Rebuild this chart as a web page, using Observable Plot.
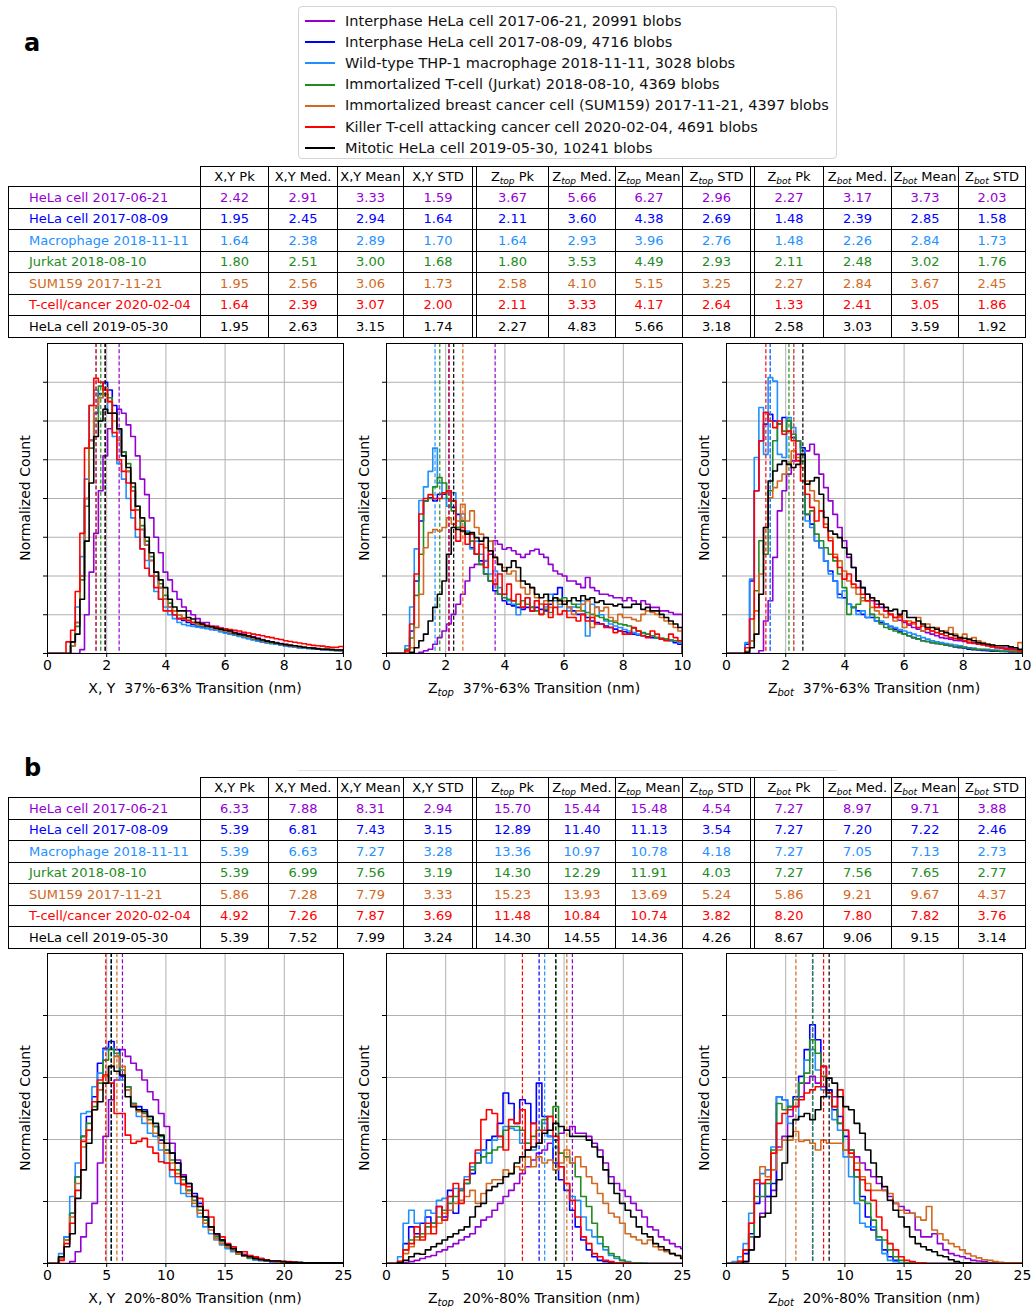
<!DOCTYPE html>
<html>
<head>
<meta charset="utf-8">
<script src="https://cdn.jsdelivr.net/npm/d3@7"></script>
<script src="https://cdn.jsdelivr.net/npm/@observablehq/plot@0.6"></script>
<style>
  body { margin: 0; background: #fff; font-family: "DejaVu Sans", sans-serif; }
  #root { position: relative; width: 1031px; height: 1307px; overflow: hidden; background: #fff; }
  .panelLetter { position: absolute; font-size: 24px; font-weight: bold; line-height: 24px; color: #000; }
  .legendBox { position: absolute; border: 1px solid #d4d4d4; border-radius: 4px; background: #fff; box-sizing: border-box; }
  .legendLine { position: absolute; height: 0; width: 30px; border-top: 2px solid; }
  .legendText { position: absolute; font-size: 14.5px; line-height: 18px; white-space: nowrap; color: #111; }
  table.stats { position: absolute; left: 8px; border-collapse: collapse; table-layout: fixed; font-size: 13px; color: #000; }
  table.stats td { border: 1px solid #000; text-align: center; padding: 0; white-space: nowrap; overflow: hidden; }
  table.stats td.rowlab { text-align: left; padding-left: 20px; }
  table.stats td.blank { border: none; }
  table.stats sub { font-size: 9px; vertical-align: -3px; line-height: 0; font-style: italic; }
  svg.panel { position: absolute; }
</style>
</head>
<body>
<div id="root"></div>
<script>
// ---------------- series / legend ----------------
const seriesColors = ["#9400d3", "#0000ff", "#1e90ff", "#228b22", "#d2691e", "#ff0000", "#000000"];
const legendLabels = [
  "Interphase HeLa cell 2017-06-21, 20991 blobs",
  "Interphase HeLa cell 2017-08-09, 4716 blobs",
  "Wild-type THP-1 macrophage 2018-11-11, 3028 blobs",
  "Immortalized T-cell (Jurkat) 2018-08-10, 4369 blobs",
  "Immortalized breast cancer cell (SUM159) 2017-11-21, 4397 blobs",
  "Killer T-cell attacking cancer cell 2020-02-04, 4691 blobs",
  "Mitotic HeLa cell 2019-05-30, 10241 blobs"
];
const rowLabels = ["HeLa cell 2017-06-21", "HeLa cell 2017-08-09", "Macrophage 2018-11-11", "Jurkat 2018-08-10",
  "SUM159 2017-11-21", "T-cell/cancer 2020-02-04", "HeLa cell 2019-05-30"];
const statNames = ["Pk", "Med.", "Mean", "STD"];

// ---------------- table values (Pk, Med., Mean, STD) ----------------
const tableA_xy  = [[2.42,2.91,3.33,1.59],[1.95,2.45,2.94,1.64],[1.64,2.38,2.89,1.70],[1.80,2.51,3.00,1.68],[1.95,2.56,3.06,1.73],[1.64,2.39,3.07,2.00],[1.95,2.63,3.15,1.74]];
const tableA_top = [[3.67,5.66,6.27,2.96],[2.11,3.60,4.38,2.69],[1.64,2.93,3.96,2.76],[1.80,3.53,4.49,2.93],[2.58,4.10,5.15,3.25],[2.11,3.33,4.17,2.64],[2.27,4.83,5.66,3.18]];
const tableA_bot = [[2.27,3.17,3.73,2.03],[1.48,2.39,2.85,1.58],[1.48,2.26,2.84,1.73],[2.11,2.48,3.02,1.76],[2.27,2.84,3.67,2.45],[1.33,2.41,3.05,1.86],[2.58,3.03,3.59,1.92]];
const tableB_xy  = [[6.33,7.88,8.31,2.94],[5.39,6.81,7.43,3.15],[5.39,6.63,7.27,3.28],[5.39,6.99,7.56,3.19],[5.86,7.28,7.79,3.33],[4.92,7.26,7.87,3.69],[5.39,7.52,7.99,3.24]];
const tableB_top = [[15.70,15.44,15.48,4.54],[12.89,11.40,11.13,3.54],[13.36,10.97,10.78,4.18],[14.30,12.29,11.91,4.03],[15.23,13.93,13.69,5.24],[11.48,10.84,10.74,3.82],[14.30,14.55,14.36,4.26]];
const tableB_bot = [[7.27,8.97,9.71,3.88],[7.27,7.20,7.22,2.46],[7.27,7.05,7.13,2.73],[7.27,7.56,7.65,2.77],[5.86,9.21,9.67,4.37],[8.20,7.80,7.82,3.76],[8.67,9.06,9.15,3.14]];

// ---------------- histograms (normalized counts, legend order) ----------------
// panel a: 64 bins of 10/64 nm starting at 0
const histA_xy = [
  [0,0,0,0,0,0,0,1,10,21,31,42,51,58,62,63,62,59,56,51,45,41,35,30,26,21,19,16,14,12,11,10,9,8,8,7,7,6.5,6,6,5.5,5.2,5,4.6,4.3,4,3.6,3.3,3,2.8,2.6,2.4,2.2,2,1.8,1.6,1.5,1.4,1.3,1.2,1.1,1,0.9,0.8],
  [0,0,0,0,0,2,8,20,40,55,62,67,70,68,64,58,52,47,42,37,32,28,24,20,17,14,12,10,9,8.5,8,7.5,7,6.8,6.5,6.2,6,5.7,5.4,5.1,4.8,4.5,4.2,3.9,3.6,3.3,3,2.8,2.6,2.4,2.2,2,1.8,1.7,1.5,1.4,1.3,1.2,1.1,1,0.9,0.9,0.8,0.8],
  [0,0,0,0,0,3,12,25,45,64,68,66,67,62,56,49,45,40,35,30,27,24,20,16,14,12,10,9,8,7.5,7.2,7,6.8,6.6,6.4,6.2,6,5.6,5.3,5,4.7,4.4,4.1,3.8,3.5,3.2,3,2.8,2.6,2.4,2.2,2,1.8,1.6,1.5,1.4,1.3,1.2,1.1,1,0.9,0.8,0.8,0.7],
  [0,0,0,0,0,2,7,19,38,53,60,69,67,66,62,58,52,49,43,38,33,29,25,21,18,15,13,11,10,9,8.5,8,7.5,7.2,7,6.7,6.4,6.1,5.8,5.4,5.1,4.8,4.5,4.2,3.9,3.6,3.3,3,2.8,2.6,2.4,2.2,2,1.8,1.7,1.5,1.4,1.3,1.2,1.1,1,0.9,0.8,0.8],
  [0,0,0,0,0,2,8,20,40,55,64,66,68.6,65,60,55,51,47,42,37,32,28,24,20,17,14,12,11,10,9.2,8.6,8,7.6,7.3,7,6.7,6.4,6.1,5.8,5.5,5.2,4.9,4.6,4.3,4,3.7,3.4,3.1,2.9,2.7,2.5,2.3,2.1,1.9,1.8,1.6,1.5,1.4,1.3,1.2,1.1,1,1,0.9],
  [0,0,0,0,3,6,16,31,53,64,71,70,68,65,57,50,47,44,37,32,27,22,20,17,14,11,11,10,9,9,8.5,8,8,7.6,7.3,7,6.8,6.6,6.4,6.2,6,5.8,5.5,5.3,5,4.8,4.6,4.3,4.1,3.8,3.6,3.3,3.1,2.9,2.7,2.5,2.3,2.1,2,1.9,1.7,1.6,1.6,1.8],
  [0,0,0,0,0,3,5,14,29,44,56,60,63,62,62,58,51,48,44,38,35,30,26,21,19,17,14,12,11,11,9.3,8.9,8,7.6,7.1,6.9,6.5,6.3,6,5.8,5.3,5,4.8,4.5,4.2,3.8,3.5,3.2,3,2.7,2.5,2.3,2.1,2,1.8,1.6,1.5,1.4,1.2,1.1,1.1,1,0.9,0.9]
];
const histA_top = [
  [0,0,0,0,0,0,0,0.3,0.7,1.1,2.4,4.1,5.8,7.6,10.1,12.7,15.3,18.7,22.2,23,23,23.9,25.6,29.1,28.2,26.9,27.3,26.5,25.6,24.8,25.6,26.5,26.9,25.6,24.8,23,21.3,20.5,20,18.7,18.7,17.9,17,19.6,17,16.2,15.3,15.3,14.9,14.4,14.4,13.6,14.4,13.6,12.7,13.6,12.7,11.9,11.9,11,11,10.6,10.1,10.1],
  [0,0,0,0,1.1,5.8,18.7,34.2,39.4,40.2,39.4,41.1,41.1,42,37.7,35.9,34.2,30.8,27.3,25.6,23.9,20.5,18.7,16.2,15.3,13.6,12.7,12.3,11.9,11.4,11.9,11,11.9,11.4,11,12.7,15.3,17,13.6,11.9,11,10.1,10.1,9.3,8.4,8,7.6,7.1,6.7,6.3,5.8,5.6,5.3,5,4.8,4.6,4.3,4.1,4,3.7,3.5,3.3,2.8,2.4],
  [0,0,0,0,2,12,27,39.5,43,47,53,44,40,38,41.5,32.5,36,31.6,27,29,25.6,24,20.5,21.3,17,15.3,13.6,12.7,10,12,14.4,12,13.6,12.7,12,15.3,13.6,12,13.6,11,12,12.7,13.6,4.5,12.7,12,10,8.4,7.6,7.1,6.7,6.2,5.8,5.4,5,5.2,5,4.6,4.1,3.9,3.7,3.5,3.3,2.8],
  [0,0,0,0,1,4,15,25.6,39.4,40,43,45.4,44,40,36.8,32.5,34.2,31.2,29,25.6,23,20.5,18.7,17.9,15.3,14.4,14,13.6,12.7,13.6,12.7,11.9,11,10.1,11.4,10.6,14.4,14,14.4,13.6,12.7,11.9,11,10.6,10.1,9.7,9.3,8.8,8.4,8,7.6,7.4,7.1,6.5,5.8,5.4,5,4.6,4.1,3.9,3.7,3.5,3.3,3.3],
  [0,0,0,0,0.5,1.5,6.7,15.3,27.3,31.2,32,31.6,32.5,35,33.4,34.2,38.5,34.2,36.8,32.5,30.8,27.3,29,24.8,23,22.2,20.5,21.3,18.7,17,15.3,17,14.4,12.7,13.6,11.9,14.4,12.7,13.6,11.9,10.1,11,12.7,13.6,6.7,11.9,11,11.9,9.3,8.4,10.1,9.3,9.3,8.8,8.4,10.1,11,10.6,10.1,9.3,8.4,7.6,6.7,5.8],
  [0,0,0,0,0.7,7.6,20.5,36,40,41,40,40,41.5,42,39.4,29,32.5,28.2,30.8,25.6,28.2,22.2,26.5,17.9,20.5,15.3,17.9,13.6,15.3,11.9,14.4,11,13.6,10.1,12.7,9.3,11.9,10.1,11,9.3,9.3,8.4,10.1,8.4,9.3,7.6,7.6,6.7,6.7,5.4,5.8,5,5,6.7,5.8,4.6,4.1,5.8,5,3.7,3.3,5,4.1,3.3],
  [0,0,0,0,0,0.3,1.5,3.3,5,8.4,11.9,15.3,18.7,25.6,32.5,32,31.6,30.8,31.2,29.9,29,29.9,26.5,24.8,23,21.3,22.2,23.9,22.2,18.7,17.9,17,15.3,14.4,15.3,13.6,14.4,13.6,12.7,13.6,14.4,13.6,14.9,14,14.4,13.2,13.6,12.7,12.7,12.3,12.7,11.9,11.9,12.7,12.7,11.4,11.9,11,11,10.1,9.3,8.4,7.6,6.7]
];
const histA_bot = [
  [0,0,0,0,0,0,0,0.7,8.4,13.6,24.8,36.8,42,46.3,49.7,51.4,51.4,52.3,54,51.4,46.3,42.8,39.4,35.9,32.5,29.1,24.8,22.2,18.7,17,15.3,13.6,12.7,11.9,11,10.1,9.3,8.6,8,7.3,6.7,6.3,5.8,5.4,5,4.6,4.1,3.9,3.7,3.4,3.3,3.1,2.8,2.8,2.8,2.4,2,1.8,1.5,1.5,1.4,1.2,1.1,0.9],
  [0,0,0,0,2.4,18.7,42,54.9,59.2,61.7,60,59.2,60.9,60,55.7,54.9,53.1,35.9,33.4,29.1,27.3,23.9,21.3,18.7,15.3,14.4,12.7,11.9,11,10.1,9.3,9.3,8.4,8,7.6,6.9,6.3,5.7,5,4.6,4.1,3.7,3.3,3.1,2.8,2.6,2.4,2.2,2,1.7,1.5,1.4,1.1,1,0.9,0.8,0.7,0.6,0.6,0.5,0.5,0.4,0.4,0.3],
  [0,0,0,0,2.8,19.2,50.6,63.5,51.4,71.2,70.3,51.4,50.6,60.9,58.3,54.9,52.3,34.2,32.5,29.1,27.3,23.9,20.5,18.7,14.4,16.2,12.7,11.9,10.1,11,9.3,10.1,8.4,8.4,7.6,7.1,6.7,6.2,5.8,5.4,5,4.6,4.1,3.7,3.3,3,2.8,2.6,2.4,2.2,2,1.7,1.5,1.4,1.1,1.1,1.1,0.9,0.9,0.8,0.7,0.6,0.5,0.5],
  [0,0,0,0,0.5,3.3,16.2,29.1,25.6,42,54.9,59.2,57.4,60,56.6,54.9,49.7,35.9,36.8,30.8,29.1,27.3,25.6,23.9,20.5,17,10.1,11.9,12.7,14.4,13.6,10.1,9.3,7.6,6.7,6.3,5.8,5.4,5,4.6,4.1,3.7,3.3,3.1,2.8,2.6,2.4,2.2,2,1.8,1.7,1.5,1.4,1.2,1.1,1,0.9,0.8,0.7,0.6,0.5,0.5,0.4,0.4],
  [0,0,0,0,0.5,3.3,11,20.5,32.5,40.2,42.8,44.5,46.3,48.8,52.3,50.6,48,44.5,42,39.4,36.8,33.4,29.9,25.6,23.9,21.3,18.7,17,15.3,13.6,13.6,11.9,11,10.1,9.3,10.1,8.4,9.3,6.7,8.4,7.6,9.3,5.8,7.6,5.8,6.7,5,5.8,6.7,5,4.1,5,3.3,4.1,3.3,2.8,2.4,2.2,2,2,2,1.7,1.5,2.8],
  [0,0,0,0,1.5,8.9,42,54.9,62.2,60,58.3,60,56.6,57.4,54.9,49.7,44.5,41.1,37.7,34.2,36.8,32.5,29.1,24.8,22.2,19.2,20.5,17.9,17,15.3,13.6,14.4,11.9,12.7,11,10.1,9.3,9.7,8.4,7.6,8,6.7,7.1,6.3,5.8,5.4,5,4.6,4.1,3.9,3.7,3.3,2.8,2.6,2.4,2.2,2,1.7,1.5,1.4,1.1,1,0.9,0.7],
  [0,0,0,0,0.3,1.5,5,15.3,32.5,44.5,47.1,48.8,49.7,48.8,48,48.8,51.4,43.7,44.5,45.4,41.1,35.1,31.6,30.8,29.9,27.3,25.6,22.2,18.7,17,15.3,14.4,13.6,12.7,11.9,11,11.4,10.1,11,9.3,9.3,8.4,7.6,6.7,6.7,6.3,5.8,5.4,5,4.6,4.1,3.9,3.7,3.3,2.8,2.6,2.4,2.2,2,2,2,1.7,1.5,1.1]
];
// panel b: bins of 30/64 nm starting at 0 (shown up to 25 nm)
const histB_xy = [
  [0,0,0,0,0.3,1.9,4.3,6.5,9.7,16.2,20.5,26.4,29.6,34.5,33.4,32.3,31.2,29.6,27.7,26.4,24.2,22.1,19.4,16.7,14.3,11.8,10.8,9.2,7.5,5.9,4.6,3.8,3,2.4,1.9,1.5,1.2,1,0.8,0.5,0.4,0.3,0.3,0.2,0.2,0.1,0.1,0.1,0.1,0.1,0.1,0.1,0.1,0.1],
  [0,0,0.8,4.3,8.1,14,20.5,23.7,26.9,32.3,34.7,35.8,34.5,30.2,28.5,25.8,25.3,24.8,23.7,22.1,19.9,18.3,17.8,16.2,14,12.9,11.3,9.7,7.5,5.9,4.8,3.8,2.7,2.2,1.6,1.2,1,0.6,0.5,0.4,0.3,0.3,0.2,0.2,0.1,0.1,0.1,0.1,0.1,0,0,0,0,0],
  [0,0,1.6,4.3,10.8,16.2,24.2,24.5,28.5,30.7,34.5,34.7,33.4,29.6,28,25.3,23.7,22.6,21,20.5,18.3,16.2,14,12.9,11.3,10.8,9.2,7.5,5.9,4.8,3.8,3,2.4,1.9,1.5,1.2,0.8,0.6,0.5,0.4,0.3,0.2,0.2,0.2,0.1,0.1,0.1,0.1,0.1,0,0,0,0,0],
  [0,0,1.1,3.8,8.1,14,20.5,22.6,25.3,29.1,32.8,34.5,33.9,31.2,28.5,25.8,24.8,24.2,23.2,22.1,20.5,18.3,16.7,15.1,13.5,11.8,10.2,8.6,7,5.9,4.3,3.5,2.7,2.2,1.5,1.2,0.9,0.7,0.6,0.5,0.4,0.3,0.2,0.2,0.1,0.1,0.1,0.1,0.1,0,0,0,0,0],
  [0,0,0.8,3.8,7.5,12.9,18.8,21.5,24.8,28,30.2,31.8,33.4,31.8,28,25.6,24.5,23.7,22.6,21,19.4,17.8,16.2,14.5,12.9,11.3,9.7,8.1,6.5,5.4,4,3.2,2.7,2.2,1.6,1.2,1,0.8,0.6,0.5,0.4,0.3,0.2,0.2,0.1,0.1,0.1,0.1,0.1,0.1,0,0,0,0],
  [0,0,0.5,3.2,6.5,11.8,19.7,21.5,26.1,29.6,30.4,29.1,24.2,24.2,20.7,19.4,19.7,20.2,18.8,17.8,16.4,16.2,15.1,14,12.7,12.4,10.8,10.5,8.6,7.5,4.8,4.3,3.2,2.7,1.9,1.9,1.3,1.1,0.8,0.6,0.4,0.4,0.3,0.3,0.2,0.1,0.1,0.1,0.1,0.1,0.1,0.1,0.1,0.1],
  [0,0,1.1,2.7,4.8,10.5,15.1,19.4,24.8,26.1,29.1,31.8,31,30.4,26.9,25.3,24.8,24.5,23.7,22.6,20.7,19.4,17.8,16.2,14,12.9,10.8,9.2,7.5,5.9,4.8,3.8,3,2.4,1.9,1.3,1.1,0.8,0.6,0.5,0.4,0.4,0.3,0.2,0.2,0.2,0.1,0.1,0.1,0.1,0.1,0.1,0.1,0.1]
];
const histB_top = [
  [0,0,0,0.1,0.3,0.5,0.8,1.1,1.3,1.9,2.2,2.7,3.2,3.8,4.3,4.8,5.9,7,7.5,8.6,9.7,10.8,11.8,12.9,14.5,15.6,16.7,17.8,18.3,19.4,19.9,21,21.5,22.1,21,21,20.5,19.4,18.3,16.2,14,12.9,11.8,10.8,9.7,8.6,7.5,5.9,5.4,4.3,3.8,3.2,2.7,2.4],
  [0,0,0.3,3.2,5.9,4.8,6.5,7.5,6.5,9.2,7.5,11.8,8.1,11.8,12.9,14.5,16.2,18.3,19.9,20.5,22.6,27.5,25.8,22.6,26.4,25.8,22.6,29.1,23.7,20.5,16.2,13.5,11.8,8.6,5.9,3.8,2.2,1.1,0.5,0.3,0.1,0.1,0.1,0,0,0,0,0,0,0,0,0,0,0],
  [0,0,1.1,6.5,8.6,6.5,4.3,8.6,8.1,10.2,10.5,10.8,12.1,12.1,14,15.6,17.8,18.3,16.2,19.9,20.5,22.1,21.8,21.5,19.4,19.4,18.3,19.4,22.6,20.5,18.8,15.6,12.9,10.8,10.2,7.5,5.4,4.3,3.2,2.2,1.3,0.8,0.5,0.3,0.1,0.1,0.1,0,0,0,0,0,0,0],
  [0,0,0.3,2.2,3.8,4.3,4.8,5.9,6.5,7.5,8.6,9.7,10.8,11.8,12.9,15.1,16.2,17.2,17.8,18.3,18.8,21.5,22.1,22.1,21.5,19.4,20.5,21.5,23.2,23.7,25.3,17.8,17.2,16.2,14,10.8,9.2,6.5,4.3,2.7,1.6,1.1,0.5,0.2,0.1,0.1,0,0,0,0,0,0,0,0],
  [0,0,0.3,1.6,2.7,3.8,4.3,4.8,5.9,6.5,8.1,8.6,9.7,10.2,10.8,11.8,9.7,11.3,12.9,13.5,13.5,15.1,14.5,15.6,15.1,17.2,15.6,17.2,16.2,16.7,15.1,16.2,18.3,16.2,17.2,15.6,14,12.9,11.3,9.7,8.1,7.5,6.5,4.8,4.3,3.8,3.2,3.8,2.7,2.2,1.9,1.6,1.3,1.1],
  [0,0,0.3,2.2,3.2,5.9,3.8,6.5,4.8,9.2,7,10.8,12.9,9.7,13.5,16.2,18.3,23.2,24.8,24.2,20.5,18.3,23.2,22.6,24.8,18.3,22.6,19.4,21.5,23.7,20.5,15.6,12.9,10.2,7.5,4.3,3.2,1.6,1.1,0.5,0.3,0.1,0.1,0.1,0,0,0,0,0,0,0,0,0,0],
  [0,0,0.1,0.5,1.1,1.6,1.5,2.2,2.7,3.2,3.8,4.3,4.8,5.4,5.9,7.5,9.2,9.7,11.8,12.4,12.9,14,14.5,16.2,17.2,18.3,18.8,19.4,21,21.5,22.6,22.1,21.5,20.5,20.5,20.5,19.9,18.8,17.2,15.1,12.9,11.3,9.7,8.6,7.5,5.9,4.8,4.3,3.2,2.7,2.2,1.6,1.3,0.8]
];
const histB_bot = [
  [0,0,0,0.3,2.2,4.3,8.1,10.8,11.8,18.8,20.5,23.7,25.3,26.9,29.1,30.2,29.1,28.5,28,26.9,22.6,21.5,18.3,17.2,16.2,15.1,14,12.9,11.8,10.8,9.7,9.2,8.6,8.1,5.4,4.3,4.3,4.8,3.2,2.2,1.6,1.3,1.1,0.8,0.5,0.4,0.3,0.1,0.1,0.1,0,0,0,0],
  [0,0,0.3,1.6,4.8,9.7,12.9,10.8,12.9,26.9,26.4,25.3,26.9,30.2,34.5,38.5,36.1,31.8,28,24.8,23.7,20.5,17.2,14,10.8,7.5,5.4,3.8,2.2,1.1,0.5,0.1,0.1,0,0,0,0,0,0,0,0,0,0,0,0,0,0,0,0,0,0,0,0,0],
  [0,0.3,1.1,3.2,8.1,12.9,14.5,15.1,18.8,26.9,26.4,22.6,23.2,29.1,32.8,34.5,31.2,28,26.9,23.2,21.5,17.2,14,9.7,6.5,5.9,5.9,3.8,1.6,0.5,0.3,0.1,0,0,0,0,0,0,0,0,0,0,0,0,0,0,0,0,0,0,0,0,0,0],
  [0,0,0.3,2.2,4.3,10.8,10.8,12.9,18.3,25.8,24.8,25.3,26.4,29.1,30.7,36.1,33.9,30.2,27.5,25.3,22.6,18.3,18.3,14,10.2,9.7,7,4.3,3.8,2.2,1.1,0.5,0.1,0.1,0,0,0,0,0,0,0,0,0,0,0,0,0,0,0,0,0,0,0,0],
  [0,0,0.3,2.2,6.5,13.5,15.6,14,15.1,18.3,19.9,19.9,21.3,19.7,19.9,19.4,18.3,19.9,19.4,19.4,19.4,18.3,17.2,16.2,14,12.9,11.8,11.8,11.8,11.3,9.7,8.6,8.1,8.1,7.5,7,9.2,5.4,4.8,3.8,3.2,2.7,2.2,1.6,1.2,0.9,0.6,0.5,0.3,0.2,0.1,0.1,0.1,0.1],
  [0,0,0.3,2.2,6.5,13.5,12.9,13.5,17.8,22.6,24.2,24.8,25.3,26.4,27.5,28,28.5,31.8,27.5,25.3,28,21.5,17.8,15.1,13.5,11.8,10.2,7.5,5.4,3.2,2.2,1.1,0.5,0.3,0.1,0.1,0,0,0,0,0,0,0,0,0,0,0,0,0,0,0,0,0,0],
  [0,0,0,0.3,2.2,4.3,7.5,8.1,10.8,13.5,16.2,20.5,23.2,23.7,24.2,23.2,24.8,26.9,29.9,29.1,26.9,25.3,24.8,22.6,21,18.3,16.2,14,12.4,10.2,8.6,7.5,5.9,4.3,3.2,2.7,2.2,1.9,1.3,1.1,0.6,0.3,0.1,0.1,0,0,0,0,0,0,0,0,0,0]
];

// axis ticks
const ticksA_x = [0, 2, 4, 6, 8, 10];
const ticksB_x = [0, 5, 10, 15, 20, 25];
const ticksA_y = [0, 10, 20, 30, 40, 50, 60, 70];
const ticksB_y = [0, 10, 20, 30, 40];

// ---------------- layout ----------------
const root = document.getElementById("root");
const PW = 296, PH = 310, ML = 47, MR = 8, MT = 5, MB = 52;

function addDiv(cls, css, html) {
  const d = document.createElement("div");
  if (cls) d.className = cls;
  Object.assign(d.style, css);
  if (html !== undefined) d.innerHTML = html;
  root.appendChild(d);
  return d;
}

// panel letters
addDiv("panelLetter", {left: "24px", top: "31px"}, "a");
addDiv("panelLetter", {left: "24px", top: "756px"}, "b");

// legend
const lg = addDiv("legendBox", {left: "298px", top: "6px", width: "539px", height: "153px"});
legendLabels.forEach((lab, i) => {
  const cy = 14 + i * 21.2;
  const ln = document.createElement("div");
  ln.className = "legendLine";
  Object.assign(ln.style, {left: "6px", top: (cy - 1) + "px", borderTopColor: seriesColors[i]});
  lg.appendChild(ln);
  const tx = document.createElement("div");
  tx.className = "legendText";
  Object.assign(tx.style, {left: "46px", top: (cy - 9.5) + "px"});
  tx.textContent = lab;
  lg.appendChild(tx);
});
// faint edge of the second (hidden) legend frame
addDiv(null, {position: "absolute", left: "298px", top: "770px", width: "539px", height: "0", borderTop: "1px solid #e2e2e2"});

// tables
const colWidths = [192, 68, 69, 66, 69, 4, 72, 67, 67, 68, 4, 69, 68, 67, 67];
function buildTable(top, xy, zt, zb) {
  const t = document.createElement("table");
  t.className = "stats";
  t.style.top = top + "px";
  t.style.width = colWidths.reduce((a, b) => a + b, 0) + "px";
  const cg = document.createElement("colgroup");
  colWidths.forEach(w => { const c = document.createElement("col"); c.style.width = w + "px"; cg.appendChild(c); });
  t.appendChild(cg);
  const hr = document.createElement("tr");
  hr.style.height = "20px";
  const headCells = [""];
  statNames.forEach(s => headCells.push("X,Y " + s));
  headCells.push(null);
  statNames.forEach(s => headCells.push("Z<sub>top</sub> " + s));
  headCells.push(null);
  statNames.forEach(s => headCells.push("Z<sub>bot</sub> " + s));
  headCells.forEach((h, j) => {
    const td = document.createElement("td");
    if (j === 0) td.className = "blank";
    td.innerHTML = h === null ? "" : h;
    hr.appendChild(td);
  });
  t.appendChild(hr);
  rowLabels.forEach((lab, i) => {
    const tr = document.createElement("tr");
    tr.style.height = "21.5px";
    tr.style.color = seriesColors[i];
    const cells = [lab, ...xy[i].map(v => v.toFixed(2)), null, ...zt[i].map(v => v.toFixed(2)), null, ...zb[i].map(v => v.toFixed(2))];
    cells.forEach((c, j) => {
      const td = document.createElement("td");
      if (j === 0) td.className = "rowlab";
      td.textContent = c === null ? "" : c;
      tr.appendChild(td);
    });
    t.appendChild(tr);
  });
  root.appendChild(t);
}
buildTable(166, tableA_xy, tableA_top, tableA_bot);
buildTable(777, tableB_xy, tableB_top, tableB_bot);

// histogram panels
function drawPanel(cfg) {
  const {hist, binW, xMax, xTicks, yMax, yTicks, pk, varMain, varSub, range, frameLeft, frameTop} = cfg;
  const marks = [
    Plot.gridX({ticks: xTicks.filter(t => t > 0 && t < xMax), stroke: "#b0b0b0", strokeOpacity: 1, strokeWidth: 1}),
    Plot.gridY({ticks: yTicks.filter(t => t > 0), stroke: "#b0b0b0", strokeOpacity: 1, strokeWidth: 1})
  ];
  hist.forEach((vals, i) => {
    const pts = vals.map((v, k) => ({x: k * binW, y: v}));
    pts.push({x: vals.length * binW, y: vals[vals.length - 1]});
    pts.push({x: vals.length * binW, y: 0});
    marks.push(Plot.line(pts, {x: "x", y: "y", curve: "step-after", stroke: seriesColors[i], strokeWidth: 1.6, clip: true}));
    marks.push(Plot.ruleX([pk[i]], {x: d => d, stroke: seriesColors[i], strokeWidth: 1.2, strokeDasharray: "4,2.2"}));
  });
  marks.push(Plot.frame({stroke: "#000", strokeWidth: 1}));
  marks.push(Plot.axisX({ticks: xTicks, tickSize: 4, tickPadding: 3, label: null, fontSize: 14}));
  marks.push(Plot.axisY({ticks: yTicks, tickSize: 4, tickFormat: () => "", label: null}));
  const svg = Plot.plot({
    width: PW + ML + MR, height: PH + MT + MB,
    marginLeft: ML, marginRight: MR, marginTop: MT, marginBottom: MB,
    x: {domain: [0, xMax]}, y: {domain: [0, yMax]},
    style: {background: "none", fontFamily: "'DejaVu Sans', sans-serif", fontSize: "14px", color: "#000", overflow: "visible"},
    marks
  });
  svg.classList.add("panel");
  svg.style.position = "absolute";
  svg.style.left = (frameLeft - ML) + "px";
  svg.style.top = (frameTop - MT) + "px";
  const s = d3.select(svg);
  const lab = s.append("text")
    .attr("x", ML + PW / 2).attr("y", MT + PH + 40)
    .attr("text-anchor", "middle").attr("font-size", 14).attr("fill", "#000")
    .attr("xml:space", "preserve").style("white-space", "pre");
  if (varSub) {
    lab.append("tspan").text(varMain);
    lab.append("tspan").attr("font-size", 10).attr("font-style", "italic").attr("dy", 3).text(varSub);
    lab.append("tspan").attr("dy", -3).text("  " + range + " Transition (nm)");
  } else {
    lab.text(varMain + "  " + range + " Transition (nm)");
  }
  s.append("text")
    .attr("transform", `translate(${ML - 17},${MT + PH / 2}) rotate(-90)`)
    .attr("text-anchor", "middle").attr("font-size", 14).attr("fill", "#000")
    .text("Normalized Count");
  root.appendChild(svg);
}

const pkOf = tbl => tbl.map(r => r[0]);
const wA = 10 / 64, wB = 30 / 64;
const panels = [
  {hist: histA_xy,  binW: wA, xMax: 10, xTicks: ticksA_x, yMax: 80, yTicks: ticksA_y, pk: pkOf(tableA_xy),  varMain: "X, Y", varSub: null,  range: "37%-63%", frameLeft: 47,  frameTop: 343},
  {hist: histA_top, binW: wA, xMax: 10, xTicks: ticksA_x, yMax: 80, yTicks: ticksA_y, pk: pkOf(tableA_top), varMain: "Z",    varSub: "top", range: "37%-63%", frameLeft: 386, frameTop: 343},
  {hist: histA_bot, binW: wA, xMax: 10, xTicks: ticksA_x, yMax: 80, yTicks: ticksA_y, pk: pkOf(tableA_bot), varMain: "Z",    varSub: "bot", range: "37%-63%", frameLeft: 726, frameTop: 343},
  {hist: histB_xy,  binW: wB, xMax: 25, xTicks: ticksB_x, yMax: 50, yTicks: ticksB_y, pk: pkOf(tableB_xy),  varMain: "X, Y", varSub: null,  range: "20%-80%", frameLeft: 47,  frameTop: 953},
  {hist: histB_top, binW: wB, xMax: 25, xTicks: ticksB_x, yMax: 50, yTicks: ticksB_y, pk: pkOf(tableB_top), varMain: "Z",    varSub: "top", range: "20%-80%", frameLeft: 386, frameTop: 953},
  {hist: histB_bot, binW: wB, xMax: 25, xTicks: ticksB_x, yMax: 50, yTicks: ticksB_y, pk: pkOf(tableB_bot), varMain: "Z",    varSub: "bot", range: "20%-80%", frameLeft: 726, frameTop: 953}
];
panels.forEach(drawPanel);
</script>
</body>
</html>
